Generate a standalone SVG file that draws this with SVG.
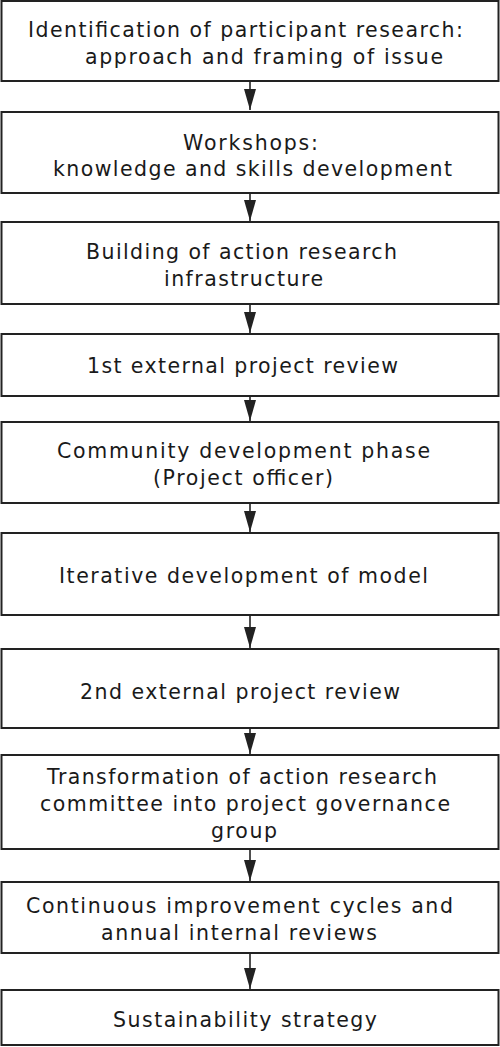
<svg xmlns="http://www.w3.org/2000/svg" width="500" height="1047" viewBox="0 0 500 1047">
<style>
.box{fill:#ffffff;stroke:#222222;stroke-width:2}
.t{font-family:"DejaVu Sans","Verdana",sans-serif;font-size:20.5px;fill:#1a1a1a}
.c{stroke:#222222;stroke-width:1.6;fill:none}
</style>
<defs>
<marker id="ah" markerUnits="userSpaceOnUse" markerWidth="22" markerHeight="12" refX="21" refY="6" orient="auto">
<path d="M0,0 L21,6 L0,12 z" fill="#222222"/>
</marker>
</defs>
<rect width="500" height="1047" fill="#ffffff"/>
<g id="connectors">
<line class="c" x1="250" y1="81" x2="250" y2="110" marker-end="url(#ah)"/>
<line class="c" x1="250" y1="193" x2="250" y2="221" marker-end="url(#ah)"/>
<line class="c" x1="250" y1="304" x2="250" y2="333" marker-end="url(#ah)"/>
<line class="c" x1="250" y1="396" x2="250" y2="421" marker-end="url(#ah)"/>
<line class="c" x1="250" y1="503" x2="250" y2="532" marker-end="url(#ah)"/>
<line class="c" x1="250" y1="615" x2="250" y2="648" marker-end="url(#ah)"/>
<line class="c" x1="250" y1="728" x2="250" y2="754" marker-end="url(#ah)"/>
<line class="c" x1="250" y1="849" x2="250" y2="881" marker-end="url(#ah)"/>
<line class="c" x1="250" y1="953" x2="250" y2="989" marker-end="url(#ah)"/>
</g>
<g id="n1">
<rect class="box" x="1.5" y="1" width="497" height="80"/>
<text class="t" x="28" y="37" textLength="435" lengthAdjust="spacing">Identification of participant research:</text>
<text class="t" x="85" y="64" textLength="358" lengthAdjust="spacing">approach and framing of issue</text>
</g>
<g id="n2">
<rect class="box" x="1.5" y="112" width="497" height="81"/>
<text class="t" x="183" y="150" textLength="135" lengthAdjust="spacing">Workshops:</text>
<text class="t" x="53" y="176" textLength="399" lengthAdjust="spacing">knowledge and skills development</text>
</g>
<g id="n3">
<rect class="box" x="1.5" y="222" width="497" height="82"/>
<text class="t" x="86" y="259" textLength="311" lengthAdjust="spacing">Building of action research</text>
<text class="t" x="164" y="286" textLength="159" lengthAdjust="spacing">infrastructure</text>
</g>
<g id="n4">
<rect class="box" x="1.5" y="334" width="497" height="62"/>
<text class="t" x="87" y="373" textLength="311" lengthAdjust="spacing">1st external project review</text>
</g>
<g id="n5">
<rect class="box" x="1.5" y="422" width="497" height="81"/>
<text class="t" x="57" y="458" textLength="373" lengthAdjust="spacing">Community development phase</text>
<text class="t" x="153" y="485" textLength="180" lengthAdjust="spacing">(Project officer)</text>
</g>
<g id="n6">
<rect class="box" x="1.5" y="533" width="497" height="82"/>
<text class="t" x="59" y="583" textLength="369" lengthAdjust="spacing">Iterative development of model</text>
</g>
<g id="n7">
<rect class="box" x="1.5" y="649" width="497" height="79"/>
<text class="t" x="80" y="699" textLength="320" lengthAdjust="spacing">2nd external project review</text>
</g>
<g id="n8">
<rect class="box" x="1.5" y="755" width="497" height="94"/>
<text class="t" x="47" y="784" textLength="390" lengthAdjust="spacing">Transformation of action research</text>
<text class="t" x="40" y="811" textLength="410" lengthAdjust="spacing">committee into project governance</text>
<text class="t" x="211" y="838" textLength="66" lengthAdjust="spacing">group</text>
</g>
<g id="n9">
<rect class="box" x="1.5" y="882" width="497" height="71"/>
<text class="t" x="26" y="913" textLength="427" lengthAdjust="spacing">Continuous improvement cycles and</text>
<text class="t" x="101" y="940" textLength="276" lengthAdjust="spacing">annual internal reviews</text>
</g>
<g id="n10">
<rect class="box" x="1.5" y="990" width="497" height="55"/>
<text class="t" x="113" y="1027" textLength="264" lengthAdjust="spacing">Sustainability strategy</text>
</g>
</svg>
